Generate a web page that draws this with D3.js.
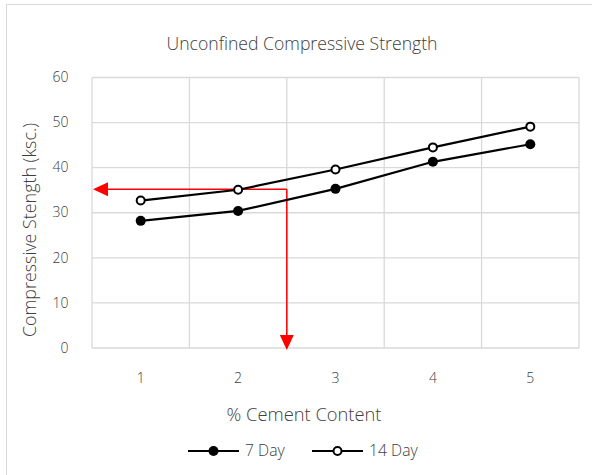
<!DOCTYPE html>
<html><head><meta charset="utf-8">
<script src="https://cdn.jsdelivr.net/npm/d3@7"></script>
<style>body{margin:0;background:#fff}svg{display:block}text{font-family:"Open Sans",sans-serif;fill:#404040}</style>
</head><body><div id="c"></div>
<script>
const categories = ["1","2","3","4","5"];
const day7 = [28.2, 30.4, 35.3, 41.3, 45.2];
const day14 = [32.7, 35.1, 39.6, 44.5, 49.1];
const yTicks = [0,10,20,30,40,50,60];
const seriesNames = ["7 Day","14 Day"];
const guideX = 2.5, guideY = 35.2;

const W=592,H=475;
const FW=300;
const svg=d3.select("#c").append("svg").attr("width",W).attr("height",H);
svg.append("rect").attr("x",6.5).attr("y",4.5).attr("width",W).attr("height",H).attr("fill","#fff").attr("stroke","#d9d9d9");
const L=92,R=579,T=77.5,B=348;
const x=d3.scaleBand().domain(categories).range([L,R]).padding(0);
const y=d3.scaleLinear().domain([0,60]).range([B,T]);
const xc=d=>x(d)+x.bandwidth()/2;
const xl=d3.scaleLinear().domain([0.5,5.5]).range([L,R]);

function fitSize(str, target, weight){
  const t=svg.append("text").attr("font-size",20).attr("font-weight",weight||400).text(str);
  const w=t.node().getComputedTextLength(); t.remove();
  return 20*target/w;
}

const g=svg.append("g");
g.selectAll(".hg").data(yTicks).join("line").attr("x1",L).attr("x2",R).attr("y1",d=>y(d)).attr("y2",d=>y(d)).attr("stroke","#d9d9d9").attr("stroke-width",1.3);
const vb=categories.map(c=>x(c)).concat([R]);
g.selectAll(".vg").data(vb).join("line").attr("x1",d=>d).attr("x2",d=>d).attr("y1",T).attr("y2",B).attr("stroke","#d9d9d9").attr("stroke-width",1.3);

const tickFs=fitSize("60",16,FW);
const yAxis=d3.axisLeft(y).tickValues(yTicks).tickSize(0).tickPadding(0);
const ya=svg.append("g").attr("transform",`translate(68.5,0)`).call(yAxis);
ya.select(".domain").remove();
ya.selectAll("text").attr("font-size",tickFs).attr("font-weight",FW).attr("fill","#404040").attr("font-family","'Open Sans',sans-serif").attr("dy","0.3em");
const xAxis=d3.axisBottom(x).tickSize(0).tickPadding(0);
const xa=svg.append("g").attr("transform",`translate(0,383)`).call(xAxis);
xa.select(".domain").remove();
xa.selectAll("text").attr("font-size",tickFs).attr("font-weight",FW).attr("fill","#404040").attr("font-family","'Open Sans',sans-serif").attr("dy",0);

const titleStr="Unconfined Compressive Strength", xtStr="% Cement Content", ytStr="Compressive Stength (ksc.)";
svg.append("text").attr("x",302).attr("y",50).attr("text-anchor","middle").attr("font-weight",FW).attr("font-size",fitSize(titleStr,271,FW)).text(titleStr);
svg.append("text").attr("x",304).attr("y",421).attr("text-anchor","middle").attr("font-weight",FW).attr("font-size",fitSize(xtStr,155,FW)).text(xtStr);
svg.append("text").attr("transform","translate(36,230) rotate(-90)").attr("text-anchor","middle").attr("font-weight",FW).attr("font-size",fitSize(ytStr,214,FW)).text(ytStr);

const red="#ff0000";
const gy=y(guideY), gx=xl(guideX);
svg.append("line").attr("x1",gx).attr("x2",L+12).attr("y1",gy).attr("y2",gy).attr("stroke",red).attr("stroke-width",1.5);
svg.append("line").attr("x1",gx).attr("x2",gx).attr("y1",gy).attr("y2",B-12).attr("stroke",red).attr("stroke-width",1.5);
svg.append("path").attr("d",`M${L+1},${gy} L${L+16},${gy-7} L${L+16},${gy+7} Z`).attr("fill",red);
svg.append("path").attr("d",`M${gx},${B+2} L${gx-7},${B-13} L${gx+7},${B-13} Z`).attr("fill",red);

const line=d3.line().x((d,i)=>xc(categories[i])).y(d=>y(d));
[day7,day14].forEach((s,k)=>{
  svg.append("path").attr("d",line(s)).attr("fill","none").attr("stroke","#000").attr("stroke-width",2.2);
  svg.selectAll(null).data(s).join("circle").attr("cx",(d,i)=>xc(categories[i])).attr("cy",d=>y(d))
    .attr("r",k?4:5).attr("fill",k?"#fff":"#000").attr("stroke","#000").attr("stroke-width",k?2:0);
});

const legFs=fitSize("14 Day",48.7,FW);
const leg=[{x:188,n:seriesNames[0],f:"#000"},{x:312,n:seriesNames[1],f:"#fff"}];
leg.forEach((l,k)=>{
  svg.append("line").attr("x1",l.x).attr("x2",l.x+51).attr("y1",451).attr("y2",451).attr("stroke","#000").attr("stroke-width",2.2);
  svg.append("circle").attr("cx",l.x+25.5).attr("cy",451).attr("r",k?4:5).attr("fill",l.f).attr("stroke","#000").attr("stroke-width",k?2:0);
  svg.append("text").attr("x",l.x+57).attr("y",456).attr("font-weight",FW).attr("font-size",legFs).text(l.n);
});
</script></body></html>
